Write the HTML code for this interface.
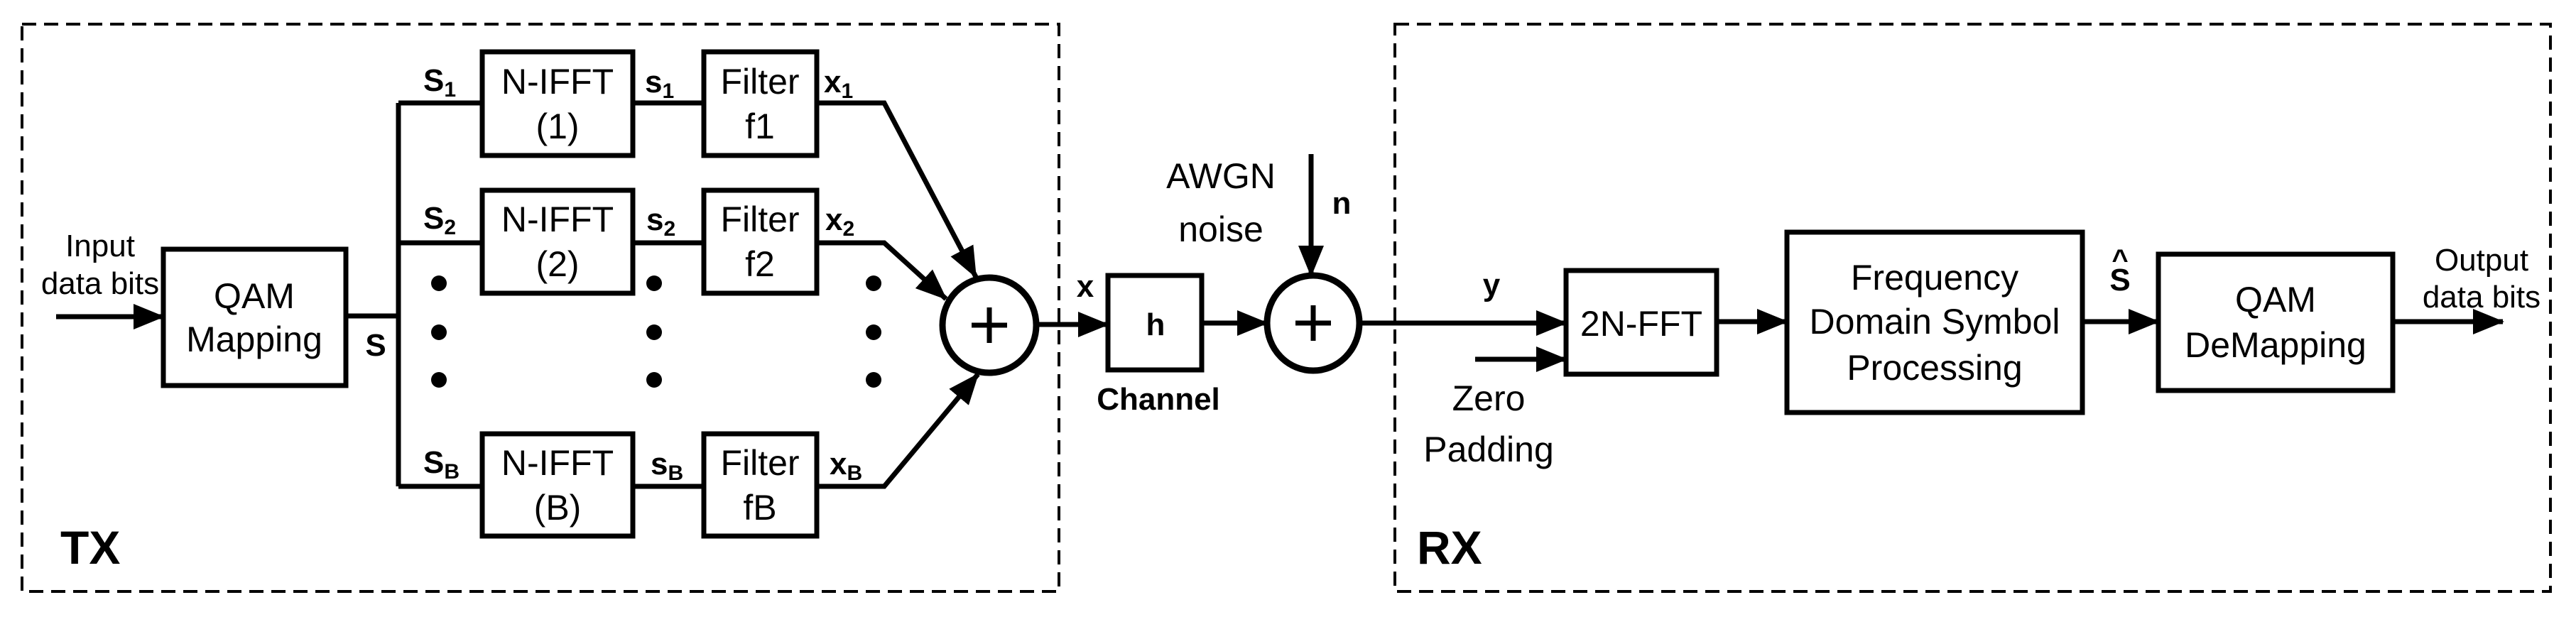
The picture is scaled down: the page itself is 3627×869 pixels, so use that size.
<!DOCTYPE html>
<html><head><meta charset="utf-8"><style>
html,body{margin:0;padding:0;background:#fff}
svg{display:block}
text{font-family:"Liberation Sans",Arial,sans-serif;fill:#000}
.b{font-weight:bold}
</style></head><body>
<svg width="3627" height="869" viewBox="0 0 3627 869" xmlns="http://www.w3.org/2000/svg">
<defs>
<marker id="ah" markerWidth="44" markerHeight="36" refX="42" refY="18" orient="auto" markerUnits="userSpaceOnUse">
<path d="M0,0 L44,18 L0,36 Z" fill="#000"/>
</marker>
</defs>
<g fill="none" stroke="#000" stroke-width="4" stroke-dasharray="20,11">
<rect x="31" y="34" width="1460" height="799"/>
<rect x="1964" y="34" width="1627" height="799"/>
</g>
<g fill="none" stroke="#000" stroke-width="7">
<!-- boxes -->
<rect x="230" y="351" width="257" height="192"/>
<rect x="679" y="73" width="212" height="146"/>
<rect x="679" y="268" width="212" height="145"/>
<rect x="679" y="611" width="212" height="144"/>
<rect x="991" y="73" width="159" height="146"/>
<rect x="991" y="268" width="159" height="145"/>
<rect x="991" y="611" width="159" height="144"/>
<rect x="1560" y="388" width="132" height="133"/>
<rect x="2205" y="381" width="212" height="146"/>
<rect x="2516" y="327" width="416" height="254"/>
<rect x="3039" y="358" width="330" height="192"/>
<!-- circles -->
<ellipse cx="1393" cy="458" rx="66" ry="67" stroke-width="9"/>
<ellipse cx="1849" cy="455" rx="65" ry="67" stroke-width="9"/>
<!-- lines -->
<polyline points="487,445 561,445"/>
<polyline points="561,145 561,685"/>
<polyline points="561,145 679,145"/>
<polyline points="561,342 679,342"/>
<polyline points="561,685 679,685"/>
<line x1="891" y1="145" x2="991" y2="145"/>
<line x1="891" y1="342" x2="991" y2="342"/>
<line x1="891" y1="685" x2="991" y2="685"/>
<polyline points="1150,145 1245,145 1374,390" marker-end="url(#ah)"/>
<polyline points="1150,342 1245,342 1332,421" marker-end="url(#ah)"/>
<polyline points="1150,685 1245,685 1377,527" marker-end="url(#ah)"/>
<line x1="79" y1="446" x2="230" y2="446" marker-end="url(#ah)"/>
<line x1="1461" y1="457" x2="1560" y2="457" marker-end="url(#ah)"/>
<line x1="1692" y1="455" x2="1784" y2="455" marker-end="url(#ah)"/>
<line x1="1846" y1="217" x2="1846" y2="388" marker-end="url(#ah)"/>
<line x1="1914" y1="455" x2="2205" y2="455" marker-end="url(#ah)"/>
<line x1="2077" y1="506" x2="2205" y2="506" marker-end="url(#ah)"/>
<line x1="2417" y1="453" x2="2516" y2="453" marker-end="url(#ah)"/>
<line x1="2932" y1="453" x2="3039" y2="453" marker-end="url(#ah)"/>
<line x1="3369" y1="453" x2="3524" y2="453" marker-end="url(#ah)"/>
<!-- plus signs -->
<line x1="1368" y1="458" x2="1418" y2="458"/><line x1="1393" y1="433" x2="1393" y2="483"/>
<line x1="1824" y1="455" x2="1874" y2="455"/><line x1="1849" y1="430" x2="1849" y2="480"/>
</g>
<g fill="#000">
<ellipse cx="618" cy="399" rx="11" ry="11"/><ellipse cx="618" cy="468" rx="11" ry="11"/><ellipse cx="618" cy="535" rx="11" ry="11"/>
<ellipse cx="921" cy="399" rx="11" ry="11"/><ellipse cx="921" cy="468" rx="11" ry="11"/><ellipse cx="921" cy="535" rx="11" ry="11"/>
<ellipse cx="1230" cy="399" rx="11" ry="11"/><ellipse cx="1230" cy="468" rx="11" ry="11"/><ellipse cx="1230" cy="535" rx="11" ry="11"/>
</g>
<g text-anchor="middle" font-size="44">
<text x="141" y="361">Input</text>
<text x="141" y="414">data bits</text>
<text x="3494" y="381">Output</text>
<text x="3494" y="433">data bits</text>
</g>
<g text-anchor="middle" font-size="50">
<text x="358" y="434">QAM</text>
<text x="358" y="495">Mapping</text>
<text x="785" y="132">N-IFFT</text>
<text x="785" y="195">(1)</text>
<text x="785" y="326">N-IFFT</text>
<text x="785" y="389">(2)</text>
<text x="785" y="669">N-IFFT</text>
<text x="785" y="732">(B)</text>
<text x="1070" y="132">Filter</text>
<text x="1070" y="195">f1</text>
<text x="1070" y="326">Filter</text>
<text x="1070" y="389">f2</text>
<text x="1070" y="669">Filter</text>
<text x="1070" y="732">fB</text>
<text x="1719" y="265">AWGN</text>
<text x="1719" y="340">noise</text>
<text x="2096" y="578">Zero</text>
<text x="2096" y="650">Padding</text>
<text x="2311" y="473">2N-FFT</text>
<text x="2724" y="408">Frequency</text>
<text x="2724" y="470">Domain Symbol</text>
<text x="2724" y="535">Processing</text>
<text x="3204" y="439">QAM</text>
<text x="3204" y="503">DeMapping</text>
</g>
<g class="b" font-size="44" text-anchor="middle">
<text x="529" y="501">S</text>
<text x="1528" y="418">x</text>
<text x="1627" y="472">h</text>
<text x="1631" y="577">Channel</text>
<text x="1889" y="301">n</text>
<text x="2100" y="416">y</text>
<text x="2985" y="409">S</text>
<text x="2985" y="379" font-size="40">^</text>
</g>
<g class="b" font-size="44">
<text x="596" y="128">S<tspan font-size="30" dy="8">1</tspan></text>
<text x="596" y="322">S<tspan font-size="30" dy="8">2</tspan></text>
<text x="596" y="666">S<tspan font-size="30" dy="8">B</tspan></text>
<text x="908" y="130">s<tspan font-size="30" dy="8">1</tspan></text>
<text x="910" y="324">s<tspan font-size="30" dy="8">2</tspan></text>
<text x="916" y="668">s<tspan font-size="30" dy="8">B</tspan></text>
<text x="1160" y="130">x<tspan font-size="30" dy="8">1</tspan></text>
<text x="1162" y="324">x<tspan font-size="30" dy="8">2</tspan></text>
<text x="1168" y="668">x<tspan font-size="30" dy="8">B</tspan></text>
</g>
<g class="b" font-size="66">
<text x="85" y="794">TX</text>
<text x="1995" y="794">RX</text>
</g>
</svg>
</body></html>
